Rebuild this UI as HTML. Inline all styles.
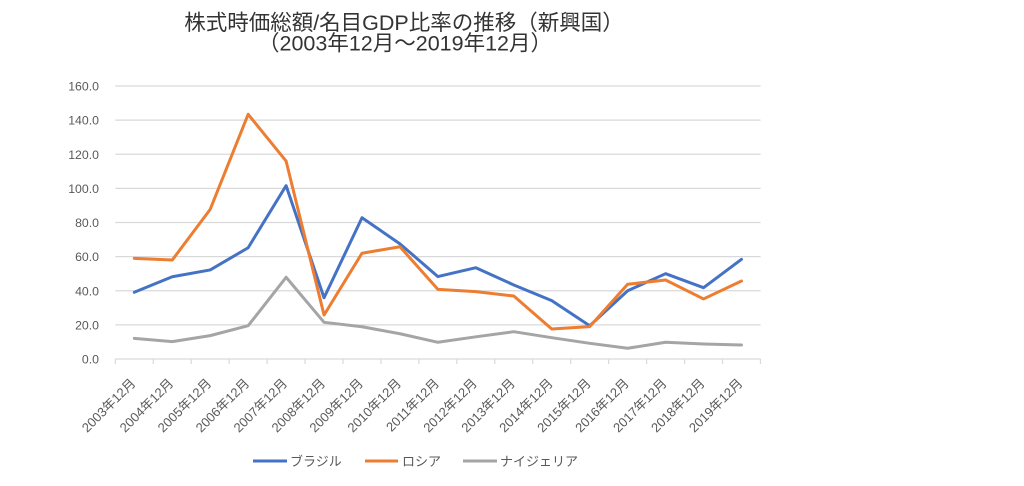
<!DOCTYPE html>
<html>
<head>
<meta charset="utf-8">
<style>
  html, body { margin:0; padding:0; background:#ffffff; }
  body { width:1024px; height:486px; overflow:hidden; }
  svg { display:block; }
  .t { font-family:"Liberation Sans","Noto Sans CJK JP",sans-serif; }
</style>
</head>
<body>
<svg width="1024" height="486" viewBox="0 0 1024 486" xmlns="http://www.w3.org/2000/svg">
  <rect width="1024" height="486" fill="#ffffff"/>

  <!-- Title -->
  <text class="t" x="404" y="30" text-anchor="middle" font-size="21.5" fill="#333333">株式時価総額/名目GDP比率の推移（新興国）</text>
  <text class="t" x="405" y="50.5" text-anchor="middle" font-size="21.5" fill="#333333">（2003年12月～2019年12月）</text>

  <!-- Gridlines -->
  <g stroke="#d9d9d9" stroke-width="1.2">
    <line x1="115.3" y1="86" x2="760.6" y2="86"/>
    <line x1="115.3" y1="120.1" x2="760.6" y2="120.1"/>
    <line x1="115.3" y1="154.25" x2="760.6" y2="154.25"/>
    <line x1="115.3" y1="188.4" x2="760.6" y2="188.4"/>
    <line x1="115.3" y1="222.5" x2="760.6" y2="222.5"/>
    <line x1="115.3" y1="256.6" x2="760.6" y2="256.6"/>
    <line x1="115.3" y1="290.75" x2="760.6" y2="290.75"/>
    <line x1="115.3" y1="324.9" x2="760.6" y2="324.9"/>
    <line x1="115.3" y1="359" x2="760.6" y2="359"/>
  </g>
  <!-- Ticks -->
  <g stroke="#d9d9d9" stroke-width="1.2">
    <line x1="115.3" y1="359" x2="115.3" y2="364"/>
    <line x1="153.25" y1="359" x2="153.25" y2="364"/>
    <line x1="191.2" y1="359" x2="191.2" y2="364"/>
    <line x1="229.15" y1="359" x2="229.15" y2="364"/>
    <line x1="267.1" y1="359" x2="267.1" y2="364"/>
    <line x1="305.05" y1="359" x2="305.05" y2="364"/>
    <line x1="343" y1="359" x2="343" y2="364"/>
    <line x1="380.95" y1="359" x2="380.95" y2="364"/>
    <line x1="418.9" y1="359" x2="418.9" y2="364"/>
    <line x1="456.85" y1="359" x2="456.85" y2="364"/>
    <line x1="494.8" y1="359" x2="494.8" y2="364"/>
    <line x1="532.75" y1="359" x2="532.75" y2="364"/>
    <line x1="570.7" y1="359" x2="570.7" y2="364"/>
    <line x1="608.65" y1="359" x2="608.65" y2="364"/>
    <line x1="646.6" y1="359" x2="646.6" y2="364"/>
    <line x1="684.55" y1="359" x2="684.55" y2="364"/>
    <line x1="722.5" y1="359" x2="722.5" y2="364"/>
    <line x1="760.45" y1="359" x2="760.45" y2="364"/>
  </g>

  <!-- Y labels -->
  <g class="t" font-size="12.3" fill="#595959" text-anchor="end">
    <text x="99" y="90.5">160.0</text>
    <text x="99" y="124.6">140.0</text>
    <text x="99" y="158.75">120.0</text>
    <text x="99" y="192.9">100.0</text>
    <text x="99" y="227">80.0</text>
    <text x="99" y="261.1">60.0</text>
    <text x="99" y="295.25">40.0</text>
    <text x="99" y="329.4">20.0</text>
    <text x="99" y="363.5">0.0</text>
  </g>

  <!-- X labels -->
  <g class="t" font-size="13" fill="#595959" text-anchor="end">
    <text transform="translate(136.3,384) rotate(-45)">2003年12月</text>
    <text transform="translate(174.25,384) rotate(-45)">2004年12月</text>
    <text transform="translate(212.2,384) rotate(-45)">2005年12月</text>
    <text transform="translate(250.15,384) rotate(-45)">2006年12月</text>
    <text transform="translate(288.1,384) rotate(-45)">2007年12月</text>
    <text transform="translate(326.05,384) rotate(-45)">2008年12月</text>
    <text transform="translate(364,384) rotate(-45)">2009年12月</text>
    <text transform="translate(401.95,384) rotate(-45)">2010年12月</text>
    <text transform="translate(439.9,384) rotate(-45)">2011年12月</text>
    <text transform="translate(477.85,384) rotate(-45)">2012年12月</text>
    <text transform="translate(515.8,384) rotate(-45)">2013年12月</text>
    <text transform="translate(553.75,384) rotate(-45)">2014年12月</text>
    <text transform="translate(591.7,384) rotate(-45)">2015年12月</text>
    <text transform="translate(629.65,384) rotate(-45)">2016年12月</text>
    <text transform="translate(667.6,384) rotate(-45)">2017年12月</text>
    <text transform="translate(705.55,384) rotate(-45)">2018年12月</text>
    <text transform="translate(743.5,384) rotate(-45)">2019年12月</text>
  </g>

  <!-- Series -->
  <g fill="none" stroke-width="3" stroke-linejoin="round" stroke-linecap="round">
    <polyline stroke="#4472C4" points="134.3,292.29 172.25,276.76 210.2,269.93 248.15,247.75 286.1,185.65 324.05,297.75 362,217.72 399.95,243.83 437.9,276.59 475.85,267.72 513.8,284.95 551.75,300.65 589.7,325.73 627.65,290.75 665.6,273.69 703.55,287.68 741.5,259.35"/>
    <polyline stroke="#ED7D31" points="134.3,258.33 172.25,260.04 210.2,209.36 248.15,114.32 286.1,161.07 324.05,314.98 362,253.21 399.95,246.73 437.9,289.38 475.85,291.6 513.8,296.04 551.75,328.97 589.7,326.58 627.65,284.27 665.6,280 703.55,298.94 741.5,281.02"/>
    <polyline stroke="#A5A5A5" points="134.3,338.35 172.25,341.6 210.2,335.62 248.15,325.73 286.1,277.27 324.05,322.32 362,326.75 399.95,333.75 437.9,342.28 475.85,336.82 513.8,331.7 551.75,337.67 589.7,343.3 627.65,348.25 665.6,342.28 703.55,343.98 741.5,345.01"/>
  </g>

  <!-- Legend -->
  <g stroke-width="3">
    <line x1="253" y1="461" x2="287" y2="461" stroke="#4472C4"/>
    <line x1="365" y1="461" x2="398" y2="461" stroke="#ED7D31"/>
    <line x1="463" y1="461" x2="497" y2="461" stroke="#A5A5A5"/>
  </g>
  <g class="t" font-size="13" fill="#595959">
    <text x="290" y="466">ブラジル</text>
    <text x="402" y="466">ロシア</text>
    <text x="500" y="466">ナイジェリア</text>
  </g>
</svg>
</body>
</html>
